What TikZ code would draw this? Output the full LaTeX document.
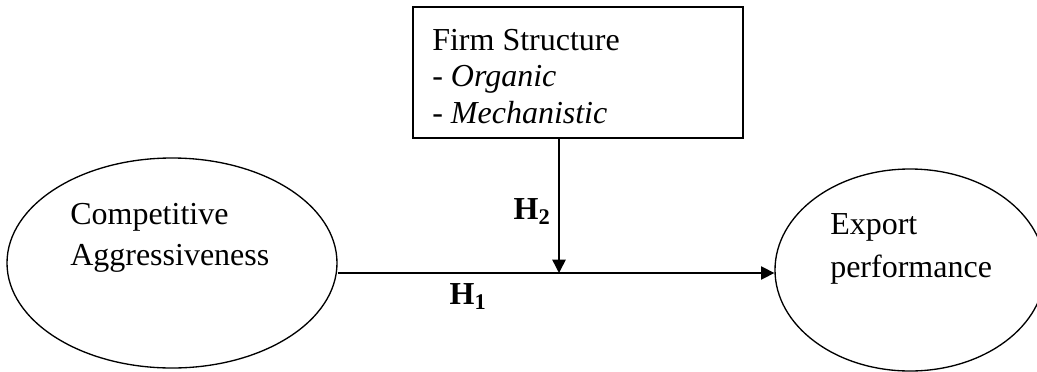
\documentclass[tikz,border=0pt]{standalone}
\usepackage{fontspec}
\setmainfont{Liberation Serif}
\usepackage{tikz}
\usetikzlibrary{arrows.meta,shapes.geometric}

\begin{document}
\begin{tikzpicture}[
  x=0.75pt, y=-0.75pt,
  font=\fontsize{24}{30}\selectfont,
  oval/.style={draw, ellipse, inner sep=0pt, line width=1pt},
  fsbox/.style={draw, rectangle, inner sep=0pt, line width=1pt,
    minimum width=247.5pt, minimum height=98.25pt},
  txt/.style={align=left, inner sep=0pt, anchor=west},
  hyp/.style={inner sep=0pt, font=\fontsize{24}{30}\selectfont\bfseries},
  arrow/.style={-{Triangle[length=10pt,width=10pt]}, line width=1.1pt}
]
\useasboundingbox (0,0) rectangle (1037,371);

% constructs
\node[oval, minimum width=247.5pt, minimum height=157.5pt] (ca) at (172,263) {};
\node[oval, minimum width=202.5pt, minimum height=151.5pt] (ep) at (910,270) {};
\node[fsbox] (firm) at (578,72.5) {};

\node[txt, font=\fontsize{24}{30.75}\selectfont] (catext) at (70,237.5) {Competitive\\Aggressiveness};
\node[txt, font=\fontsize{24}{32.25}\selectfont] (eptext) at (830,248.5) {Export\\performance};
\node[txt, font=\fontsize{24}{27.4}\selectfont] (firmtext) at (432,76.5)
  {Firm Structure\\- \textit{Organic}\\- \textit{Mechanistic}};

% paths
\coordinate (meet) at (559,273);
\draw[arrow] (ca.east |- meet) -- (ep.west |- meet);
\draw[arrow] (firm.south -| meet) -- (meet);

\node[hyp] (h2) at (532,212) {H\textsubscript{2}};
\node[hyp] (h1) at (468,297) {H\textsubscript{1}};
\end{tikzpicture}
\end{document}
